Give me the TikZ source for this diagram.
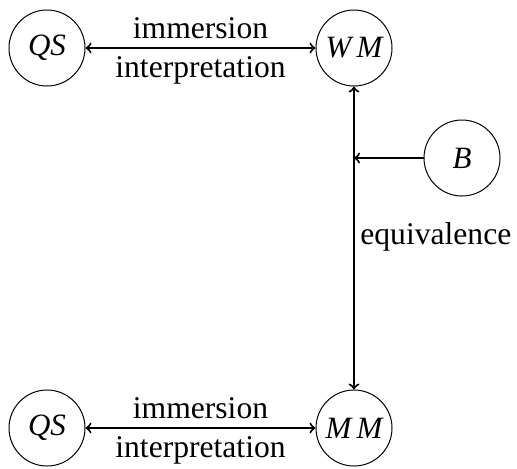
\documentclass[tikz,border=0pt]{standalone}
\usepackage{fontspec}
\setmainfont{Liberation Serif}
\begin{document}
\begin{tikzpicture}[x=0.5pt,y=-0.5pt,
  st/.style={draw,circle,line width=0.5pt,minimum size=38pt,inner sep=0pt,font=\fontsize{15.5}{18}\selectfont\itshape},
  lbl/.style={font=\fontsize{15.8}{19}\selectfont,inner sep=0pt},
  conn/.style={line width=1pt,->}]
\useasboundingbox (0,0) rectangle (517,468);
\node[st] (qs1) at (47,48) {QS};
\node[st] (wm) at (354,48) {W\,M};
\node[st] (b) at (462,158) {B};
\node[st] (qs2) at (47,428) {QS};
\node[st] (mm) at (354,428) {M\,M};
\draw[conn,<->] (qs1) -- (wm) node[midway,above=4pt,lbl] {immersion} node[midway,below=4pt,lbl] {interpretation};
\draw[conn,<->] (qs2) -- (mm) node[midway,above=4pt,lbl] {immersion} node[midway,below=4pt,lbl] {interpretation};
\draw[conn,<->] (wm) -- (mm);
\coordinate (j) at (354,158);
\draw[conn] (b) -- (j);
\node[lbl,anchor=west] (eq) at (360,237) {equivalence};
\end{tikzpicture}
\end{document}
